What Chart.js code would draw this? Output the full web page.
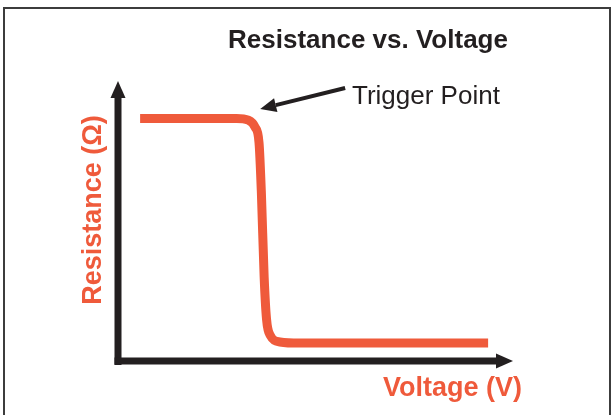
<!DOCTYPE html>
<html>
<head>
<meta charset="utf-8">
<script src="https://cdn.jsdelivr.net/npm/chart.js@4.4.1/dist/chart.umd.min.js"></script>
<style>
    html, body { margin: 0; padding: 0; background: #fff; }
    #frame {
        position: absolute; left: 3px; top: 7px; width: 604px; height: 420px;
        border-left: 2px solid #3c3c3c; border-top: 2px solid #3c3c3c; border-right: 2px solid #3c3c3c;
    }
    #wrap { position: absolute; left: 0; top: 0; width: 613px; height: 415px; }
</style>
</head>
<body>
<div id="frame"></div>
<div id="wrap"><canvas id="chart"></canvas></div>
<script>
// resistance curve, arbitrary units (0-10 on both axes)
const voltage    = [0.56, 3.0,  3.3, 3.47, 3.57, 3.63, 3.7, 3.76, 3.86, 4.1,  4.6,  9.37]
const resistance = [8.66, 8.66, 8.6, 8.35, 7.8,  6.0,  3.0, 1.5,  0.9,  0.68, 0.64, 0.64]

const chartTitle = 'Resistance vs. Voltage'
const xTitle = 'Voltage (V)'
const yTitle = 'Resistance (Ω)'
const noteText = 'Trigger Point'
const noteTip = [3.6, 9.0]
const noteTail = [5.75, 9.75]

const red = '#EF5A3B'
const ink = '#231F20'

const decorPlugin = {
    id: 'decor',
    beforeDatasetsDraw(chart) {
        const {ctx, chartArea: a} = chart
        ctx.save()
        ctx.fillStyle = ink
        // y axis with arrow
        ctx.fillRect(a.left - 3.5, a.top + 17, 7, a.bottom - a.top - 17 + 4)
        ctx.beginPath()
        ctx.moveTo(a.left, a.top)
        ctx.lineTo(a.left + 7.5, a.top + 17)
        ctx.lineTo(a.left - 7.5, a.top + 17)
        ctx.closePath()
        ctx.fill()
        // x axis with arrow
        ctx.fillRect(a.left - 3.5, a.bottom - 3.5, a.right - a.left - 17 + 3.5, 7)
        ctx.beginPath()
        ctx.moveTo(a.right, a.bottom)
        ctx.lineTo(a.right - 17, a.bottom - 7.5)
        ctx.lineTo(a.right - 17, a.bottom + 7.5)
        ctx.closePath()
        ctx.fill()
        ctx.restore()
    },
    afterDraw(chart) {
        const {ctx, chartArea: a, scales} = chart
        ctx.save()
        ctx.fillStyle = ink
        ctx.textBaseline = 'alphabetic'
        ctx.font = 'bold 26px "Liberation Sans", Arial, sans-serif'
        ctx.textAlign = 'center'
        ctx.fillText(chartTitle, 368, 48)

        ctx.font = '26px "Liberation Sans", Arial, sans-serif'
        ctx.textAlign = 'left'
        ctx.fillText(noteText, 352, 104)

        // annotation arrow
        const tx = scales.x.getPixelForValue(noteTip[0]), ty = scales.y.getPixelForValue(noteTip[1])
        const sx = scales.x.getPixelForValue(noteTail[0]), sy = scales.y.getPixelForValue(noteTail[1])
        const ang = Math.atan2(ty - sy, tx - sx)
        const hl = 16, hw = 7
        const bx = tx - Math.cos(ang) * hl, by = ty - Math.sin(ang) * hl
        ctx.strokeStyle = ink
        ctx.lineWidth = 4
        ctx.beginPath()
        ctx.moveTo(sx, sy)
        ctx.lineTo(bx, by)
        ctx.stroke()
        ctx.beginPath()
        ctx.moveTo(tx, ty)
        ctx.lineTo(bx + Math.sin(ang) * hw, by - Math.cos(ang) * hw)
        ctx.lineTo(bx - Math.sin(ang) * hw, by + Math.cos(ang) * hw)
        ctx.closePath()
        ctx.fill()

        ctx.fillStyle = red
        ctx.font = 'bold 27px "Liberation Sans", Arial, sans-serif'
        ctx.textAlign = 'left'
        ctx.fillText(xTitle, 383, 396)

        ctx.translate(101, 210)
        ctx.rotate(-Math.PI / 2)
        ctx.textAlign = 'center'
        ctx.fillText(yTitle, 0, 0)
        ctx.restore()
    }
}

new Chart(document.getElementById('chart'), {
    type: 'line',
    data: {
        datasets: [{
            data: voltage.map((v, i) => ({x: v, y: resistance[i]})),
            borderColor: red,
            borderWidth: 9,
            pointRadius: 0,
            fill: false,
            cubicInterpolationMode: 'monotone',
            clip: false
        }]
    },
    options: {
        responsive: true,
        maintainAspectRatio: false,
        animation: false,
        layout: {padding: {left: 118, top: 81, right: 100, bottom: 54}},
        plugins: {legend: {display: false}, tooltip: {enabled: false}},
        scales: {
            x: {type: 'linear', min: 0, max: 10, display: false},
            y: {type: 'linear', min: 0, max: 10, display: false}
        }
    },
    plugins: [decorPlugin]
})
</script>
</body>
</html>
